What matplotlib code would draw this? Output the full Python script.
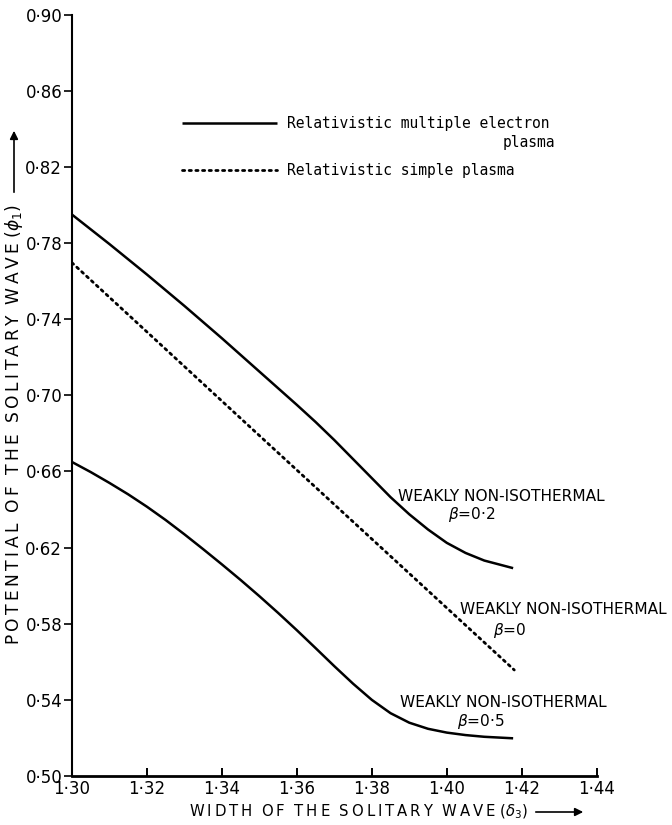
import matplotlib.pyplot as plt
import numpy as np

# widths (delta_3) and potentials (phi_1)
width_b02 = [1.300, 1.310, 1.320, 1.330, 1.340, 1.350, 1.360, 1.365, 1.370, 1.375,
             1.380, 1.385, 1.390, 1.395, 1.400, 1.405, 1.410, 1.4177]
phi_b02 = [0.7950, 0.7795, 0.7635, 0.7470, 0.7300, 0.7125, 0.6950, 0.6860, 0.6765, 0.6665,
           0.6565, 0.6465, 0.6375, 0.6295, 0.6225, 0.6172, 0.6132, 0.6092]

width_b0 = [1.300, 1.3475, 1.418]
phi_b0 = [0.7697, 0.6834, 0.5557]

width_b05 = [1.300, 1.305, 1.310, 1.315, 1.320, 1.325, 1.330, 1.335, 1.340, 1.345,
             1.350, 1.355, 1.360, 1.365, 1.370, 1.375, 1.380, 1.385, 1.390, 1.395,
             1.400, 1.405, 1.410, 1.4177]
phi_b05 = [0.6650, 0.6597, 0.6540, 0.6480, 0.6415, 0.6345, 0.6270, 0.6192, 0.6112, 0.6030,
           0.5945, 0.5857, 0.5766, 0.5672, 0.5577, 0.5485, 0.5400, 0.5330, 0.5280, 0.5248,
           0.5228, 0.5215, 0.5206, 0.5198]

xticks = [1.30, 1.32, 1.34, 1.36, 1.38, 1.40, 1.42, 1.44]
xticklabels = ['1·30', '1·32', '1·34', '1·36', '1·38', '1·40', '1·42', '1·44']
yticks = [0.50, 0.54, 0.58, 0.62, 0.66, 0.70, 0.74, 0.78, 0.82, 0.86, 0.90]
yticklabels = ['0·50', '0·54', '0·58', '0·62', '0·66', '0·70', '0·74', '0·78', '0·82', '0·86', '0·90']

plt.rcParams['font.family'] = ['DejaVu Sans']


def spaced(words, tail):
    # letter-spaced caption like the hand lettering of the original
    return '  '.join('\u2009'.join(w) for w in words) + tail


def fit_length(fig, txt, target_px):
    fig.canvas.draw()
    bb = txt.get_window_extent(fig.canvas.get_renderer())
    length = max(bb.width, bb.height)
    txt.set_fontsize(txt.get_fontsize() * target_px / length)


fig = plt.figure(figsize=(6.72, 8.25), dpi=100)
ax = fig.add_axes([0.107, 0.0594, 0.781, 0.9228])

# curves
ax.plot(width_b02, phi_b02, color='black', lw=1.8, solid_capstyle='butt', solid_joinstyle='round',
        label='Relativistic multiple electron')
ax.plot(width_b0, phi_b0, color='black', lw=2.0, linestyle=(0, (0.8, 1.6)),
        dash_capstyle='round', label='Relativistic simple plasma')
ax.plot(width_b05, phi_b05, color='black', lw=1.8, solid_capstyle='butt', solid_joinstyle='round')

ax.set_xlim(1.30, 1.44)
ax.set_ylim(0.50, 0.90)
ax.set_xticks(xticks)
ax.set_xticklabels(xticklabels, fontsize=12)
ax.set_yticks(yticks)
ax.set_yticklabels(yticklabels, fontsize=12)
ax.tick_params(axis='x', direction='in', length=6, width=1.4, pad=3)
ax.tick_params(axis='y', direction='out', length=6, width=1.2, pad=1)

for s in ['top', 'right']:
    ax.spines[s].set_visible(False)
ax.spines['left'].set_linewidth(1.5)
ax.spines['bottom'].set_linewidth(2.0)

# key
leg = ax.legend(handles=ax.lines[:2], loc='upper left', bbox_to_anchor=(0.2095, 0.867),
                frameon=False, prop={'family': 'DejaVu Sans Mono', 'size': 10.5},
                handlelength=6.5, handletextpad=0.7, labelspacing=2.2,
                borderpad=0, borderaxespad=0)
ax.text(0.92, 0.832, 'plasma', ha='right', va='center', family='DejaVu Sans Mono',
        fontsize=10.5, transform=ax.transAxes)

# curve annotations
notes = [
    (1.3869, 0.6467, 1.4003, 0.6372, r'$\beta$=0·2'),
    (1.4035, 0.5873, 1.4123, 0.5767, r'$\beta$=0'),
    (1.3875, 0.5384, 1.4027, 0.5284, r'$\beta$=0·5'),
]
for x1, y1, x2, y2, b in notes:
    ax.text(x1, y1, 'WEAKLY NON-ISOTHERMAL', fontsize=11.1, ha='left', va='center')
    ax.text(x2, y2, b, fontsize=11.1, ha='left', va='center')

# axis titles with arrows
ylab = fig.text(14 / 672, 1 - 425 / 825,
                spaced(['POTENTIAL', 'OF', 'THE', 'SOLITARY', 'WAVE'], r' ($\phi_1$)'),
                rotation=90, ha='center', va='center', fontsize=10)
ax.annotate('', xy=(14 / 672, 1 - 128 / 825), xytext=(14 / 672, 1 - 195 / 825),
            xycoords='figure fraction', textcoords='figure fraction',
            arrowprops=dict(arrowstyle='-|>', lw=1.2, color='black', mutation_scale=12))
xlab = fig.text(359 / 672, 1 - 812 / 825,
                spaced(['WIDTH', 'OF', 'THE', 'SOLITARY', 'WAVE'], r' ($\delta_3$)'),
                ha='center', va='center', fontsize=10)
ax.annotate('', xy=(586 / 672, 1 - 812 / 825), xytext=(533 / 672, 1 - 812 / 825),
            xycoords='figure fraction', textcoords='figure fraction',
            arrowprops=dict(arrowstyle='-|>', lw=1.2, color='black', mutation_scale=12))

fit_length(fig, ylab, 440)
fit_length(fig, xlab, 338)

fig.savefig('out.png', dpi=100)
